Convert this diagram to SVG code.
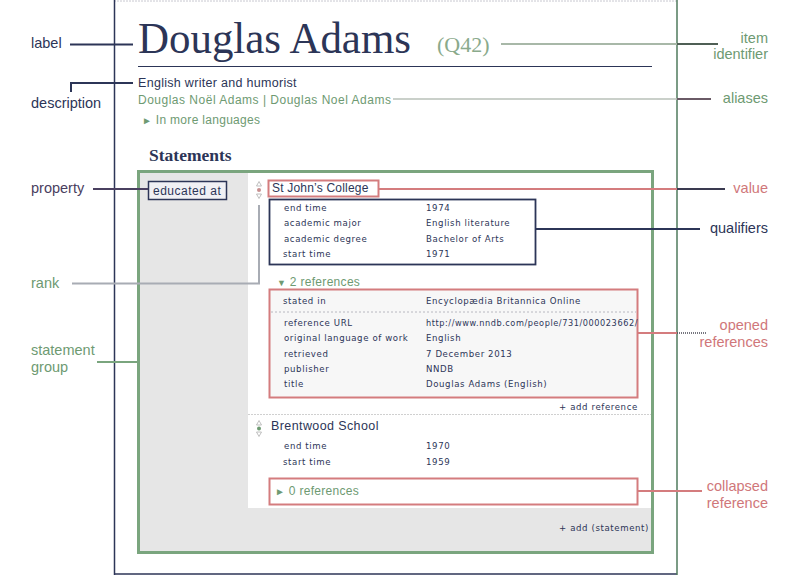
<svg xmlns="http://www.w3.org/2000/svg" width="800" height="575" viewBox="0 0 800 575">
<style>
.sans{font-family:"Liberation Sans","DejaVu Sans",Arial,sans-serif}
.serif{font-family:"Liberation Serif","DejaVu Serif",serif}
.navy{fill:#2c3557}
.green{fill:#6e9a72}
.red{fill:#d0777a}
.ann{font-family:"Liberation Sans",Arial,sans-serif;font-size:14.5px}
.tbl{font-family:"DejaVu Sans","Liberation Sans",sans-serif;font-size:8.6px;fill:#2c3557;letter-spacing:0.6px}
.rank{fill:none;stroke:#b0b0b0;stroke-width:0.8}
</style>
<rect x="0" y="0" width="800" height="575" fill="#ffffff"/>
<g id="page">
<line x1="114" y1="1" x2="677" y2="1" stroke="#c8c8d0" stroke-width="1" stroke-dasharray="2,1"/>
<line x1="114.5" y1="0" x2="114.5" y2="575" stroke="#2c3557" stroke-width="1.5"/>
<line x1="114" y1="574" x2="677" y2="574" stroke="#2c3557" stroke-width="1.5"/>
<line x1="677" y1="0" x2="677" y2="575" stroke="#4f7a5c" stroke-width="1.5"/>
</g>
<g id="header">
<text class="serif navy" x="138" y="53" font-size="44" textLength="273" lengthAdjust="spacingAndGlyphs">Douglas Adams</text>
<text class="serif" x="437" y="52" font-size="22" fill="#8aaa8c">(Q42)</text>
<line x1="138" y1="66.5" x2="652" y2="66.5" stroke="#2c3557" stroke-width="1.2"/>
<text class="sans navy" x="138" y="87" font-size="12.5" letter-spacing="0.3">English writer and humorist</text>
<text class="sans green" x="138" y="104" font-size="12" letter-spacing="0.5">Douglas Noël Adams | Douglas Noel Adams</text>
<text class="sans green" x="142" y="124" font-size="12" letter-spacing="0.3"><tspan font-size="10">►</tspan> In more languages</text>
<text class="serif navy" x="149" y="161" font-size="17.5" font-weight="bold">Statements</text>
</g>
<g id="statement-group">
<rect x="138.5" y="171.5" width="514" height="381" fill="#e6e6e6" stroke="#7aa57e" stroke-width="3"/>
<rect x="248" y="173" width="403" height="335" fill="#ffffff"/>
<line x1="248" y1="414.5" x2="651" y2="414.5" stroke="#d0d0d0" stroke-width="1" stroke-dasharray="2,1"/>
<text class="tbl" x="559" y="531">+  add (statement)</text>
</g>
<g id="property">
<rect x="148.5" y="181.5" width="78" height="18" fill="#f0f0f4" stroke="#2c3557" stroke-width="1.5"/>
<text class="sans navy" x="153" y="195" font-size="12" letter-spacing="0.5">educated at</text>
</g>
<g id="statement1">
<path class="rank" d="M256.5,186 L259,181.5 L261.5,186 Z M256.5,194 L259,198.5 L261.5,194 Z"/>
<circle cx="259" cy="190" r="2" fill="#c89090"/>
<rect x="268.5" y="180.5" width="110" height="16" fill="#ffffff" stroke="#d47c7e" stroke-width="2"/>
<text class="sans navy" x="272" y="192" font-size="12" letter-spacing="0.2">St John’s College</text>
</g>
<g id="qualifiers">
<rect x="269.5" y="199.5" width="266" height="65" fill="#ffffff" stroke="#2c3557" stroke-width="1.8"/>
<text class="tbl" x="284" y="211">end time</text><text class="tbl" x="426" y="211">1974</text>
<text class="tbl" x="284" y="226">academic major</text><text class="tbl" x="426" y="226">English literature</text>
<text class="tbl" x="284" y="242">academic degree</text><text class="tbl" x="426" y="242">Bachelor of Arts</text>
<text class="tbl" x="283" y="257">start time</text><text class="tbl" x="426" y="257">1971</text>
</g>
<g id="references">
<text class="sans green" x="277" y="286" font-size="12" letter-spacing="0.3"><tspan font-size="9">▼</tspan> 2 references</text>
<rect x="269.5" y="289.5" width="368" height="108" fill="#f7f7f7" stroke="#d47c7e" stroke-width="2"/>
<line x1="271" y1="312" x2="636" y2="312" stroke="#b8b8c0" stroke-width="1" stroke-dasharray="2,2"/>
<text class="tbl" x="283" y="304">stated in</text><text class="tbl" x="426" y="304">Encyclopædia Britannica Online</text>
<text class="tbl" x="284" y="326">reference URL</text><text class="tbl" x="426" y="326" textLength="212" lengthAdjust="spacingAndGlyphs">http://www.nndb.com/people/731/000023662/</text>
<text class="tbl" x="284" y="341">original language of work</text><text class="tbl" x="426" y="341">English</text>
<text class="tbl" x="284" y="357">retrieved</text><text class="tbl" x="426" y="357">7 December 2013</text>
<text class="tbl" x="284" y="372">publisher</text><text class="tbl" x="426" y="372">NNDB</text>
<text class="tbl" x="284" y="387">title</text><text class="tbl" x="426" y="387">Douglas Adams (English)</text>
<text class="tbl" x="559" y="410">+  add reference</text>
</g>
<g id="statement2">
<path class="rank" d="M256.5,425 L259,420.5 L261.5,425 Z M256.5,432 L259,436.5 L261.5,432 Z"/>
<circle cx="259" cy="428.5" r="2" fill="#6e9a72"/>
<text class="sans navy" x="271" y="430" font-size="12.5" letter-spacing="0.4">Brentwood School</text>
<text class="tbl" x="284" y="449">end time</text><text class="tbl" x="426" y="449">1970</text>
<text class="tbl" x="283" y="465">start time</text><text class="tbl" x="426" y="465">1959</text>
<rect x="269.5" y="478.5" width="368" height="26" fill="#ffffff" stroke="#d47c7e" stroke-width="2"/>
<text class="sans green" x="275" y="495" font-size="12" letter-spacing="0.3"><tspan font-size="10">►</tspan> 0 references</text>
</g>
<g id="connectors" fill="none">
<line x1="70" y1="44.5" x2="133" y2="44.5" stroke="#2c3557" stroke-width="2"/>
<polyline points="71,92 71,83 133,83" stroke="#2c3557" stroke-width="2"/>
<line x1="501" y1="44" x2="677" y2="44" stroke="#a8b8a8" stroke-width="2"/>
<line x1="677" y1="44" x2="718" y2="44" stroke="#4f5f55" stroke-width="2"/>
<line x1="393" y1="99" x2="677" y2="99" stroke="#b8c0b8" stroke-width="1.5"/>
<line x1="677" y1="99" x2="711" y2="99" stroke="#6a5a66" stroke-width="2"/>
<line x1="93" y1="189" x2="148" y2="189" stroke="#4a4060" stroke-width="2"/>
<line x1="378" y1="189" x2="677" y2="189" stroke="#d47c7e" stroke-width="2"/>
<line x1="677" y1="189" x2="725" y2="189" stroke="#3a3a50" stroke-width="2"/>
<line x1="536" y1="229" x2="700" y2="229" stroke="#2c3557" stroke-width="2"/>
<polyline points="259,205 259,283.5 72,283.5" stroke="#a8acb4" stroke-width="2"/>
<line x1="97" y1="362" x2="138" y2="362" stroke="#7aa57e" stroke-width="2"/>
<line x1="638" y1="333" x2="677" y2="333" stroke="#d47c7e" stroke-width="2"/>
<line x1="677" y1="333" x2="706" y2="333" stroke="#4a4a55" stroke-width="1.5" stroke-dasharray="1,1"/>
<line x1="637" y1="491" x2="702" y2="491" stroke="#d47c7e" stroke-width="2"/>
</g>
<g id="annotations">
<text class="ann navy" x="31" y="48">label</text>
<text class="ann navy" x="31" y="108">description</text>
<text class="ann green" x="768" y="43" text-anchor="end">item</text>
<text class="ann green" x="768" y="59" text-anchor="end">identifier</text>
<text class="ann green" x="768" y="103" text-anchor="end">aliases</text>
<text class="ann" x="31" y="193" fill="#4a4060">property</text>
<text class="ann red" x="768" y="193" text-anchor="end">value</text>
<text class="ann navy" x="768" y="233" text-anchor="end">qualifiers</text>
<text class="ann green" x="31" y="288">rank</text>
<text class="ann green" x="31" y="355">statement</text>
<text class="ann green" x="31" y="372">group</text>
<text class="ann red" x="768" y="330" text-anchor="end">opened</text>
<text class="ann red" x="768" y="347" text-anchor="end">references</text>
<text class="ann red" x="768" y="491" text-anchor="end">collapsed</text>
<text class="ann red" x="768" y="508" text-anchor="end">reference</text>
</g>
</svg>
